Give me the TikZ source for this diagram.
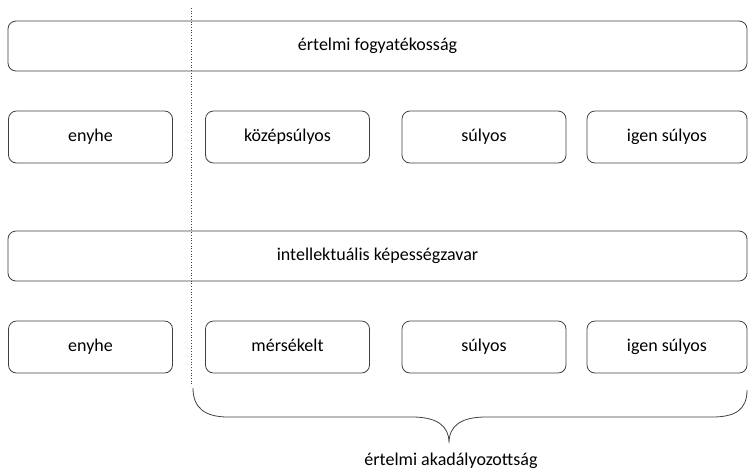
\documentclass[tikz,border=0pt]{standalone}
\usepackage{fontspec}
\setmainfont{Carlito}
\usepackage{xcolor}
\usetikzlibrary{positioning}
\definecolor{edge700}{HTML}{404040}
\tikzset{
  every node/.style={font=\fontsize{18}{21}\selectfont},
  level/.style={
    rectangle, rounded corners=8pt,
    draw=edge700, line width=0.8pt,
    minimum width=164pt, minimum height=52pt,
    text height=13pt, text depth=4pt,
    inner sep=0pt, align=center
  },
  wide/.style={
    level, minimum width=739pt, minimum height=50pt
  },
  divider/.style={dotted, draw=edge700, line width=0.7pt},
  bracket/.style={draw=edge700, line width=0.8pt},
}
\begin{document}
\begin{tikzpicture}[x=1pt,y=-1pt]
  \useasboundingbox (0,0) rectangle (749,475);
  % first classification
  \node[wide] (fogy) at (377.5,46) {értelmi fogyatékosság};
  \node[level] (enyheA) at (90.5,137) {enyhe};
  \node[level] (kozepA) at (287.5,137) {középsúlyos};
  \node[level] (sulyA) at (484,137) {súlyos};
  \node[level, minimum width=160pt] (igenA) at (667,137) {igen súlyos};
  % second classification
  \node[wide] (kepes) at (377.5,256) {intellektuális képességzavar};
  \node[level] (enyheB) at (90.5,347) {enyhe};
  \node[level] (merseB) at (287.5,347) {mérsékelt};
  \node[level] (sulyB) at (484,347) {súlyos};
  \node[level, minimum width=160pt] (igenB) at (667,347) {igen súlyos};
  % dividing line
  \coordinate (divtop) at (191,8);
  \coordinate (divbot) at (191,386);
  \draw[divider] (divtop) -- (divbot);
  % brace
  \coordinate (brL) at (193,388);
  \coordinate (brR) at (747,390);
  \coordinate (brTip) at (449,443);
  \draw[bracket] (brL) .. controls (193,408) and (205,417) .. (228,417)
    -- (412,417) .. controls (436,417) and (449,425) .. (brTip)
    .. controls (449,425) and (462,417) .. (486,417)
    -- (712,417) .. controls (735,417) and (747,410) .. (brR);
  \node (akad) at (451,461) {értelmi akadályozottság};
\end{tikzpicture}
\end{document}
